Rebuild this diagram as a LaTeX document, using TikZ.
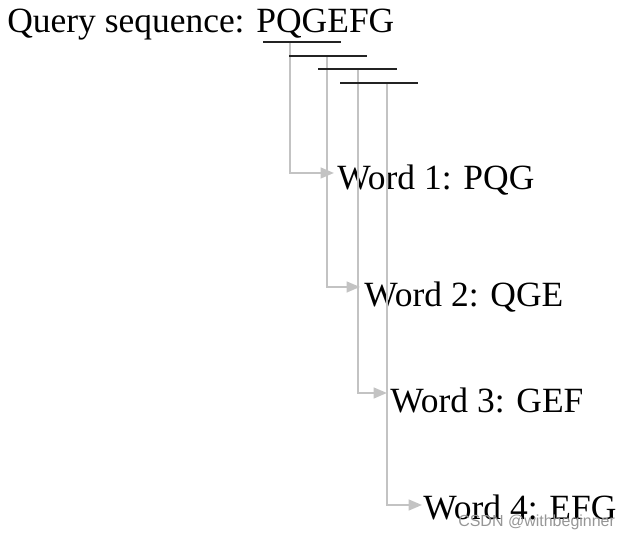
\documentclass[tikz,border=0pt]{standalone}
\usepackage{fontspec}
\setmainfont{Liberation Serif}
\newfontfamily\wmfont{Liberation Sans}
\usetikzlibrary{arrows.meta,calc}
\definecolor{conngray}{RGB}{195,195,195}
\definecolor{wmgray}{RGB}{150,150,150}
\definecolor{ulcolor}{RGB}{35,35,35}
\begin{document}
\begin{tikzpicture}[x=0.75pt,y=-0.75pt,
  lbl/.style={inner sep=0pt, anchor=base west, font=\fontsize{26.6}{30}\selectfont, text=black},
  uline/.style={line width=1.2pt, draw=ulcolor},
  conn/.style={draw=conngray, line width=1.6pt, -{Triangle[length=10pt,width=8pt]}},
  wmark/.style={inner sep=0pt, anchor=base west, font=\wmfont\fontsize{12}{14}\selectfont, text=wmgray}
]
\useasboundingbox (0,0) rectangle (629,548);
\node[lbl] (q) at (7,33) {Query sequence: PQGEFG};
% underlines
\coordinate (u1a) at (263,42); \coordinate (u1b) at (341,42);
\coordinate (u2a) at (289,56); \coordinate (u2b) at (367,56);
\coordinate (u3a) at (318,69); \coordinate (u3b) at (397,69);
\coordinate (u4a) at (340,83); \coordinate (u4b) at (418,83);
% starts of connectors
\coordinate (s1) at (290,43);
\coordinate (s2) at (327,57);
\coordinate (s3) at (358,70);
\coordinate (s4) at (387,84);
% words
\node[lbl] (w1) at (337,190) {Word 1: PQG};
\node[lbl] (w2) at (364,307) {Word 2: QGE};
\node[lbl] (w3) at (390,413) {Word 3: GEF};
\node[lbl] (w4) at (423,520) {Word 4: EFG};
% connectors
\draw[conn] (s1) |- ($(w1.base west)+(-3,-17)$);
\draw[conn] (s2) |- ($(w2.base west)+(-4,-20)$);
\draw[conn] (s3) |- ($(w3.base west)+(-3,-20)$);
\draw[conn] (s4) |- ($(w4.base west)+(-1,-15)$);
\draw[uline] (u1a) -- (u1b);
\draw[uline] (u2a) -- (u2b);
\draw[uline] (u3a) -- (u3b);
\draw[uline] (u4a) -- (u4b);
\node[wmark] (wm) at (458,527) {CSDN @withbeginner};
\end{tikzpicture}
\end{document}
